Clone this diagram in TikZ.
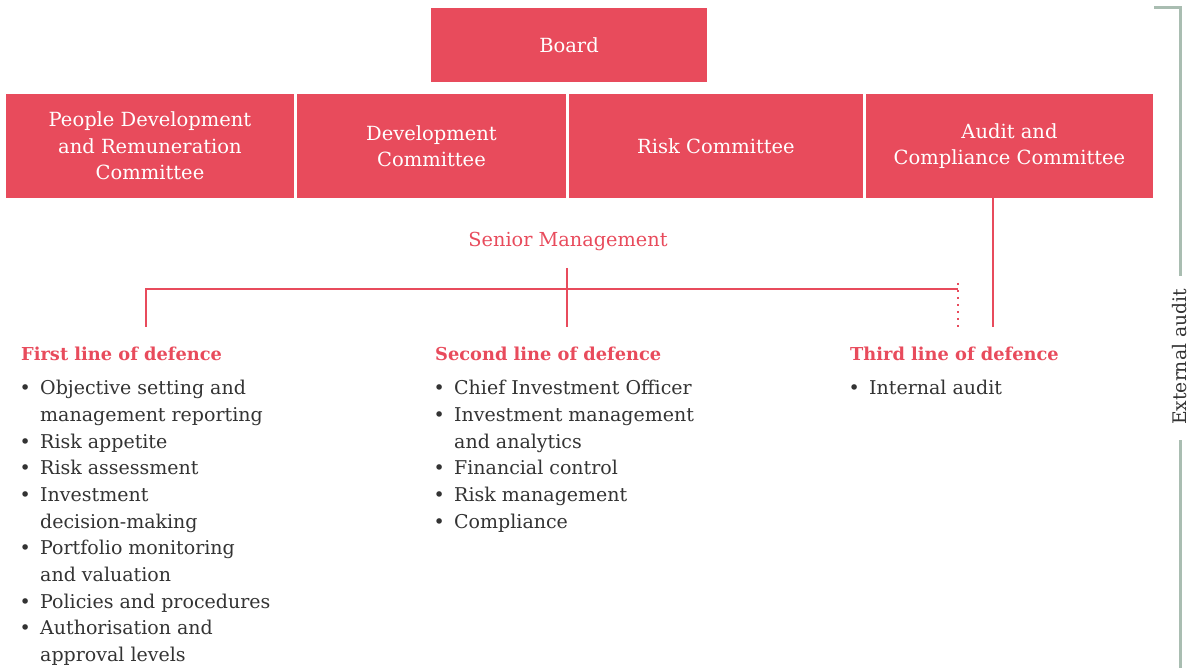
\documentclass[tikz,border=0pt]{standalone}
\usepackage{fontspec}
\setmainfont{DejaVu Serif}
\usetikzlibrary{positioning}
\definecolor{boardred}{HTML}{E84B5C}
\definecolor{auditgrey}{HTML}{A9BDB1}
\definecolor{listgrey}{HTML}{333333}
\newcommand\li{\makebox[22.5pt][l]{\hspace{2pt}\textbullet}}
\newcommand\cont{\hspace*{22.5pt}}
\tikzset{
  committee/.style={fill=boardred, text=white, inner sep=0, align=center,
    minimum height=104, font=\fontsize{19.5}{26.5}\selectfont},
  redline/.style={draw=boardred, line width=2.4},
  heading/.style={anchor=base west, inner sep=0, text=boardred,
    font=\fontsize{17.8}{20}\selectfont\bfseries},
  itemlist/.style={anchor=north west, inner sep=0, align=left, text=listgrey,
    font=\fontsize{19}{26.7}\selectfont}
}
\begin{document}
\begin{tikzpicture}[x=1pt, y=-1pt]
    \useasboundingbox (0,0) rectangle (1197,668);

    \node[committee, minimum width=276, minimum height=74] (board) at (569,45) {Board};
    \node[committee, minimum width=288] (pdrc) at (150,146) {People Development\\and Remuneration\\Committee};
    \node[committee, minimum width=269] (devc) at (431.5,146) {Development\\Committee};
    \node[committee, minimum width=294] (riskc) at (716,146) {Risk Committee};
    \node[committee, minimum width=287] (acc) at (1009.5,146) {Audit and\\Compliance Committee};

    \node[text=boardred, font=\fontsize{19.3}{22}\selectfont] (senior) at (568,241) {Senior Management};

    % joints of the defence lines
    \coordinate (sm) at (567,268);
    \coordinate (j1) at (146,327);
    \coordinate (j2) at (567,327);
    \coordinate (j3) at (958,289);
    \coordinate (j4) at (958,327);
    \coordinate (j5) at (993,327);

    \draw[redline] (j1) |- (j3);
    \draw[redline] (sm) -- (j2);
    \draw[boardred, line width=2, dash pattern=on 2pt off 5pt] ([yshift=6]j3) -- (j4);
    \draw[redline] (acc.south -| j5) -- (j5);

    \node[heading] (first) at (21,360) {First line of defence};
    \node[heading] (second) at (435,360) {Second line of defence};
    \node[heading] (third) at (850,360) {Third line of defence};

    \node[itemlist] (firstlist) at (17.5,380) {\li Objective setting and\\\cont management reporting\\
      \li Risk appetite\\\li Risk assessment\\\li Investment\\\cont decision-making\\
      \li Portfolio monitoring\\\cont and valuation\\\li Policies and procedures\\
      \li Authorisation and\\\cont approval levels};
    \node[itemlist] (secondlist) at (431.5,380) {\li Chief Investment Officer\\\li Investment management\\
      \cont and analytics\\\li Financial control\\\li Risk management\\\li Compliance};
    \node[itemlist] (thirdlist) at (846.5,380) {\li Internal audit};

    % external audit bracket
    \node[rotate=90, text=listgrey, font=\fontsize{18.7}{20}\selectfont] (extaudit) at (1180,357) {External audit};
    \coordinate (bt) at (1154,8);
    \coordinate (bb) at (1180,668);
    \draw[auditgrey, line width=3] (bt) -| ([yshift=10]extaudit.east -| bb) ;
    \draw[auditgrey, line width=3] ([yshift=-12]extaudit.west -| bb) -- (bb);
  
  \end{tikzpicture}
\end{document}
